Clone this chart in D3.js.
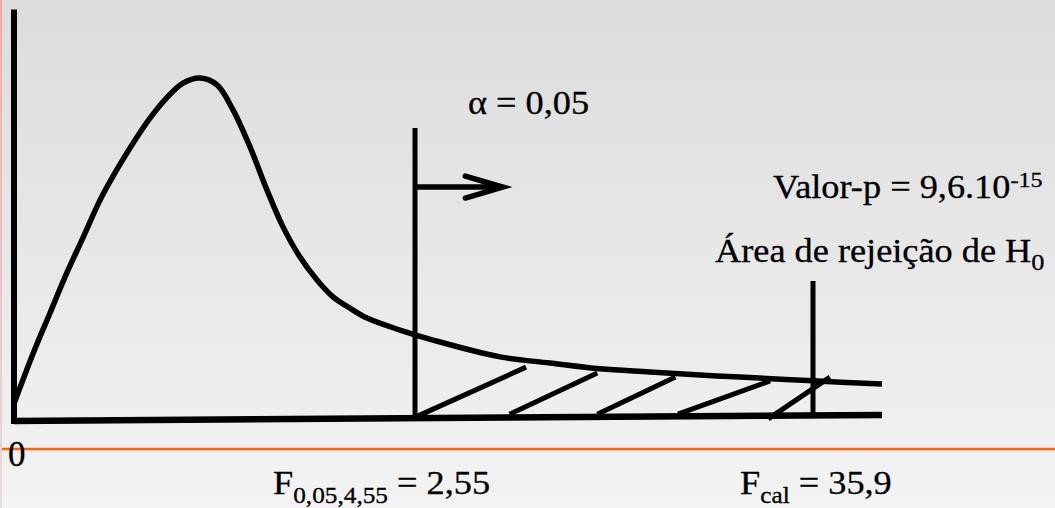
<!DOCTYPE html>
<html>
<head>
<meta charset="utf-8">
<script src="https://cdn.jsdelivr.net/npm/d3@7"></script>
<style>
  html, body { margin: 0; padding: 0; overflow: hidden; }
  svg { display: block; }
</style>
</head>
<body>
<svg id="chart" width="1055" height="508"></svg>
<script>
// ---- data (abstract units: x 0..100 along the F axis, y 0..100 density height) ----
const curveX = [0, 2.22, 4.15, 6.07, 7.98, 9.91, 11.83, 13.71, 15.67, 17.59, 19.47, 21.43, 23.39, 25.23, 27.19, 29.15, 30.99, 32.95, 34.91, 36.75, 38.71, 40.67, 44.47, 48.27, 55.99, 61.75, 67.51, 73.27, 79.03, 83.64, 92.05, 100];
const curveY = [5, 19.8, 31.5, 43.1, 53.6, 64.4, 73.2, 81.0, 88.3, 94.2, 98.5, 100, 98.0, 90.7, 79.9, 67.3, 56.6, 47.8, 41.1, 36.2, 32.9, 30.0, 26.5, 23.6, 18.7, 16.9, 15.2, 14.3, 13.4, 12.8, 11.7, 10.8];

const baselineX = [0, 100];
const baselineY = [0, 1.75];
const axisTopY = 120;

const criticalX = 46.2;      // F(0.05;4;55) = 2,55
const criticalTop = 85.4;
const calcX = 92.05;         // Fcal = 35,9
const calcTop = 40.8;

const arrowY = 68.2;
const arrowTipX = 56.3;
const arrowBackX = 52.0;
const arrowSpread = 3.2;

const hatchX1 = [46.3, 57.1, 67.2, 76.5, 86.9];
const hatchY1 = [1.2, 2.0, 2.0, 2.0, 0.6];
const hatchX2 = [59.0, 67.2, 76.2, 87.1, 94.0];
const hatchY2 = [15.7, 14.0, 12.8, 11.7, 12.8];

const alphaLabel = "α = 0,05";
const pLabelMain = "Valor-p = 9,6.10";
const pLabelExp = "-15";
const areaLabelMain = "Área de rejeição de H";
const areaLabelSub = "0";
const zeroLabel = "0";
const critLabel = ["F", "0,05,4,55", " = 2,55"];
const calcLabel = ["F", "cal", " = 35,9"];

// ---- drawing ----
const W = 1055, H = 508;
const FONT = "Liberation Serif";
const svg = d3.select("#chart");
const x = d3.scaleLinear().domain([0, 100]).range([14, 882]);
const y = d3.scaleLinear().domain([0, 100]).range([421, 78]);

const defs = svg.append("defs");
const bg = defs.append("linearGradient").attr("id", "bg").attr("x1", 0).attr("y1", 0).attr("x2", 0).attr("y2", 1);
bg.append("stop").attr("offset", "0%").attr("stop-color", "#dcdcdc");
bg.append("stop").attr("offset", "100%").attr("stop-color", "#f3f3f3");
const edge = defs.append("linearGradient").attr("id", "edge").attr("x1", 0).attr("y1", 0).attr("x2", 0).attr("y2", 1);
edge.append("stop").attr("offset", "0%").attr("stop-color", "#f4aaa0");
edge.append("stop").attr("offset", "100%").attr("stop-color", "#e4dcdc");

svg.append("rect").attr("width", W).attr("height", H).attr("fill", "url(#bg)");
svg.append("rect").attr("x", 0).attr("y", 0).attr("width", 2).attr("height", H).attr("fill", "url(#edge)");

// orange rule
svg.append("line").attr("x1", 2).attr("x2", W).attr("y1", 449).attr("y2", 449)
  .attr("stroke", "#ff6600").attr("stroke-width", 2.3);

const g = svg.append("g").attr("fill", "none").attr("stroke", "#000");

// hatch lines
g.selectAll("line.hatch").data(hatchX1).join("line").attr("class", "hatch")
  .attr("x1", (d, i) => x(hatchX1[i])).attr("y1", (d, i) => y(hatchY1[i]))
  .attr("x2", (d, i) => x(hatchX2[i])).attr("y2", (d, i) => y(hatchY2[i]))
  .attr("stroke-width", 5);

// density curve
const line = d3.line().x(d => x(d[0])).y(d => y(d[1])).curve(d3.curveCatmullRom.alpha(0.5));
g.append("path").datum(curveX.map((v, i) => [v, curveY[i]])).attr("d", line)
  .attr("stroke-width", 5.5).attr("stroke-linejoin", "round");

// axes
g.append("line").attr("x1", x(0)).attr("x2", x(0)).attr("y1", y(axisTopY)).attr("y2", y(0) + 3)
  .attr("stroke-width", 6);
g.append("path").datum(baselineX.map((v, i) => [v, baselineY[i]])).attr("d", d3.line().x(d => x(d[0])).y(d => y(d[1])))
  .attr("stroke-width", 6.5);

// critical value line
g.append("line").attr("x1", x(criticalX)).attr("x2", x(criticalX)).attr("y1", y(criticalTop)).attr("y2", y(1.2))
  .attr("stroke-width", 5);
// calculated value line
g.append("line").attr("x1", x(calcX)).attr("x2", x(calcX)).attr("y1", y(calcTop)).attr("y2", y(1.6))
  .attr("stroke-width", 5);

// arrow
g.append("line").attr("x1", x(criticalX)).attr("x2", x(arrowTipX)).attr("y1", y(arrowY)).attr("y2", y(arrowY))
  .attr("stroke-width", 5.5);
g.append("path")
  .attr("d", d3.line()([[x(arrowBackX), y(arrowY + arrowSpread)], [x(arrowTipX), y(arrowY)], [x(arrowBackX), y(arrowY - arrowSpread)]]))
  .attr("stroke-width", 5.5).attr("stroke-linecap", "round").attr("stroke-linejoin", "miter");

// ---- text ----
const FS = 33, SX = 1.1;
function label(px, py, parts, size) {
  const t = svg.append("text").attr("transform", `translate(${px},${py}) scale(${SX},1)`)
    .attr("font-family", FONT).attr("fill", "#000")
    .attr("stroke", "#000").attr("stroke-width", 0.3)
    .attr("font-size", size || FS);
  parts.forEach(p => {
    const s = t.append("tspan").text(p.text);
    if (p.size) s.attr("font-size", p.size);
    if (p.dy) s.attr("dy", p.dy);
  });
  return t;
}
label(468, 114, [{ text: alphaLabel }]);
label(773, 198, [{ text: pLabelMain }, { text: pLabelExp, size: 22, dy: -11 }]);
label(715, 262, [{ text: areaLabelMain }, { text: areaLabelSub, size: 24, dy: 8 }]);
label(273, 494, [{ text: critLabel[0] }, { text: critLabel[1], size: 23, dy: 9 }, { text: critLabel[2], dy: -9 }]);
label(740, 494, [{ text: calcLabel[0] }, { text: calcLabel[1], size: 23, dy: 9 }, { text: calcLabel[2], dy: -9 }]);
svg.append("text").attr("x", 8).attr("y", 466).attr("font-size", 35)
  .attr("font-family", FONT).attr("fill", "#000")
  .attr("stroke", "#000").attr("stroke-width", 0.3).text(zeroLabel);
</script>
</body>
</html>
